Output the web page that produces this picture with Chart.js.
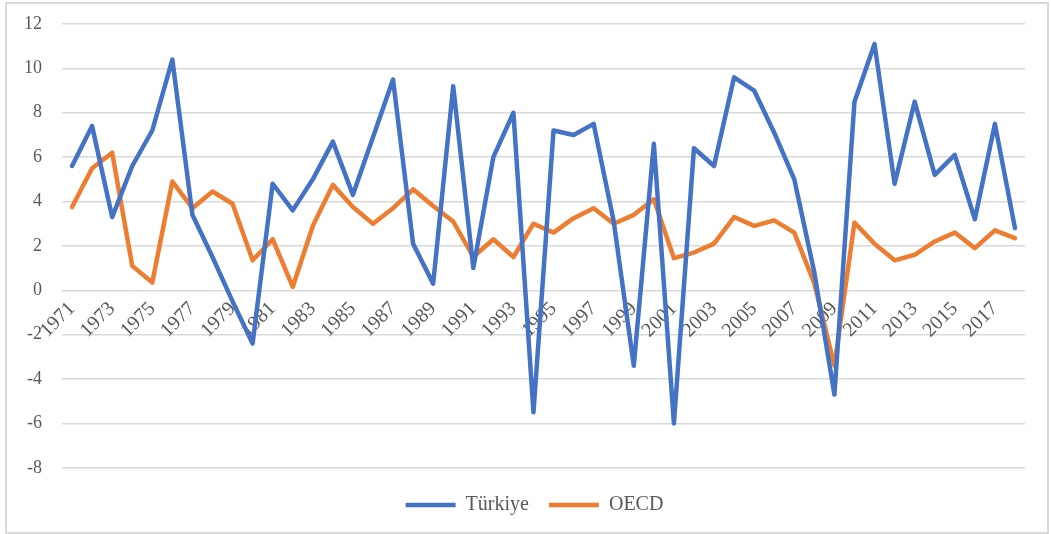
<!DOCTYPE html>
<html>
<head>
<meta charset="utf-8">
<script src="https://cdn.jsdelivr.net/npm/chart.js@4"></script>
<style>
  body { margin: 0; background: #fff; }
  #wrap { position: relative; width: 1051px; height: 534px; }
  #frame { position: absolute; left: 5px; top: 2px; width: 1040px; height: 528px; border: 2px solid #d9d9d9; }
  canvas { position: absolute; left: 0; top: 0; }
</style>
</head>
<body>
<div id="wrap">
  <div id="frame"></div>
  <canvas id="growthChart" width="1051" height="534"></canvas>
</div>
<script>
let years = [];
for (let y = 1971; y <= 2018; y++) years.push(String(y));

let turkiye = [5.6, 7.4, 3.3, 5.6, 7.2, 10.4, 3.4, 1.5, -0.5, -2.4,
               4.8, 3.6, 5.0, 6.7, 4.3, 6.9, 9.5, 2.1, 0.3, 9.2,
               1.0, 6.0, 8.0, -5.5, 7.2, 7.0, 7.5, 3.1, -3.4, 6.6,
               -6.0, 6.4, 5.6, 9.6, 9.0, 7.1, 5.0, 0.8, -4.7, 8.5,
               11.1, 4.8, 8.5, 5.2, 6.1, 3.2, 7.5, 2.8];

let oecd = [3.75, 5.5, 6.2, 1.1, 0.35, 4.9, 3.7, 4.45, 3.9, 1.35,
            2.3, 0.15, 2.9, 4.75, 3.75, 3.0, 3.7, 4.55, 3.8, 3.1,
            1.5, 2.3, 1.5, 3.0, 2.6, 3.25, 3.7, 3.0, 3.4, 4.1,
            1.45, 1.7, 2.1, 3.3, 2.9, 3.15, 2.6, 0.3, -3.4, 3.05,
            2.1, 1.35, 1.6, 2.2, 2.6, 1.9, 2.7, 2.35];

let yMin = -8, yMax = 12, yStep = 2;

const serif = "'Liberation Serif', 'Times New Roman', serif";
const tickColor = '#595959';

// the original legend sits a bit right of the canvas centre
const shiftLegend = {
    id: 'shiftLegend',
    afterLayout(chart) {
        if (chart.legend) chart.legend.left += 44;
    }
};

new Chart(document.getElementById('growthChart'), {
    type: 'line',
    data: {
        labels: years,
        datasets: [{
            label: 'Türkiye',
            data: turkiye,
            borderColor: '#4472C4',
            backgroundColor: '#4472C4',
            borderWidth: 4.5,
            pointRadius: 0,
            tension: 0,
            borderCapStyle: 'round',
            borderJoinStyle: 'round'
        }, {
            label: 'OECD',
            data: oecd,
            borderColor: '#ED7D31',
            backgroundColor: '#ED7D31',
            borderWidth: 4.5,
            pointRadius: 0,
            tension: 0,
            borderCapStyle: 'round',
            borderJoinStyle: 'round'
        }]
    },
    plugins: [shiftLegend],
    options: {
        responsive: false,
        animation: false,
        layout: { padding: { left: 0, right: 26, top: 24, bottom: 9 } },
        plugins: {
            tooltip: { enabled: false },
            legend: {
                position: 'bottom',
                title: { display: true, text: '', font: { size: 1 }, padding: { top: 6, bottom: 0 } },
                labels: {
                    usePointStyle: true,
                    pointStyle: 'line',
                    pointStyleWidth: 50,
                    padding: 20,
                    color: tickColor,
                    font: { family: serif, size: 20 }
                }
            }
        },
        scales: {
            x: {
                position: { y: 0 },
                offset: true,
                grid: { display: false, drawTicks: false },
                border: { display: false },
                afterFit: function (scale) {
                    scale.height = 0;
                    scale.paddingLeft = 0;
                    scale.paddingRight = 0;
                },
                ticks: {
                    autoSkip: false,
                    maxRotation: 45,
                    minRotation: 45,
                    padding: 7,
                    color: tickColor,
                    font: { family: serif, size: 20 },
                    callback: function (v, i) { return i % 2 === 0 ? years[i] : ''; }
                }
            },
            y: {
                min: yMin,
                max: yMax,
                afterFit: function (scale) {
                    scale.width = 62;
                    scale.paddingTop = 0;
                    scale.paddingBottom = 0;
                },
                grid: { color: '#d9d9d9', lineWidth: 1.5, drawTicks: false },
                border: { display: false },
                ticks: { stepSize: yStep, padding: 20, color: tickColor, font: { family: serif, size: 18 } }
            }
        }
    }
});
</script>
</body>
</html>
